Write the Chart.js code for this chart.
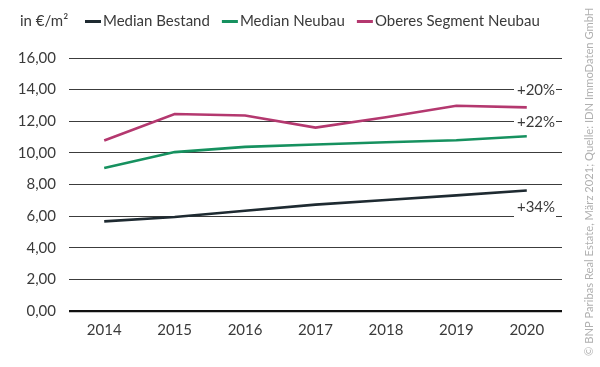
<!DOCTYPE html>
<html>
<head>
<meta charset="utf-8">
<script src="https://cdn.jsdelivr.net/npm/chart.js@4/dist/chart.umd.min.js"></script>
<style>
  html, body { margin: 0; padding: 0; background: #fff; }
  #wrap { width: 600px; height: 367px; position: relative; }
</style>
</head>
<body>
<div id="wrap"><canvas id="chart"></canvas></div>
<script>
// Daten
const years = ['2014', '2015', '2016', '2017', '2018', '2019', '2020']
const medianBestand = [5.67, 5.94, 6.34, 6.73, 7.02, 7.31, 7.62]
const medianNeubau = [9.05, 10.05, 10.38, 10.53, 10.67, 10.80, 11.05]
const oberesSegment = [10.78, 12.46, 12.36, 11.60, 12.25, 12.98, 12.88]
const seriesNames = ['Median Bestand', 'Median Neubau', 'Oberes Segment Neubau']
const seriesColors = ['#1e2a31', '#16915f', '#b4386f']
const changeLabels = ['+20%', '+22%', '+34%']
const changeLevels = [14, 12, 6.6]
const unitLabel = 'in €/m²'
const sourceText = '© BNP Paribas Real Estate, März 2021; Quelle: IDN ImmoDaten GmbH'

const FONT = 'Lato, "Open Sans", sans-serif'
const TEXT = '#3a3a3a'

// Legende oben links
const legendPlugin = {
    id: 'topLegend',
    afterDraw(chart) {
        const ctx = chart.ctx
        ctx.save()
        ctx.font = '15px ' + FONT
        ctx.fillStyle = TEXT
        ctx.textBaseline = 'middle'
        ctx.fillText(unitLabel, 20, 21)
        let x = 85
        seriesNames.forEach((name, i) => {
            ctx.fillStyle = seriesColors[i]
            ctx.fillRect(x, 20, 16, 3)
            ctx.fillStyle = TEXT
            ctx.fillText(name, x + 18, 21)
            x += 18 + ctx.measureText(name).width + 12
        })
        ctx.restore()
    }
}

// Veraenderung 2014-2020 rechts
const changePlugin = {
    id: 'changes',
    beforeDatasetsDraw(chart) {
        const ctx = chart.ctx
        const y = chart.scales.y
        ctx.save()
        changeLevels.forEach((v, i) => {
            const py = y.getPixelForValue(v)
            ctx.fillStyle = '#fff'
            ctx.fillRect(514, py - 11, 42, i === 2 ? 24 : 20)
        })
        ctx.restore()
    },
    afterDatasetsDraw(chart) {
        const ctx = chart.ctx
        const y = chart.scales.y
        ctx.save()
        ctx.font = '15px ' + FONT
        ctx.fillStyle = TEXT
        ctx.textAlign = 'center'
        ctx.textBaseline = 'middle'
        changeLabels.forEach((t, i) => {
            ctx.fillText(t, 536, y.getPixelForValue(changeLevels[i]) + 1)
        })
        // Quelle, senkrecht
        ctx.translate(589, 356)
        ctx.rotate(-Math.PI / 2)
        ctx.font = '11.2px ' + FONT
        ctx.fillStyle = '#b0b0b0'
        ctx.textAlign = 'left'
        ctx.fillText(sourceText, 0, 0)
        ctx.restore()
    }
}

const data = {
    labels: years,
    datasets: [medianBestand, medianNeubau, oberesSegment].map((values, i) => ({
        label: seriesNames[i],
        data: values,
        borderColor: seriesColors[i],
        backgroundColor: seriesColors[i],
        borderWidth: 2.6,
        pointRadius: 0,
        tension: 0
    }))
}

const options = {
    responsive: false,
    animation: false,
    layout: { padding: { top: 58, right: 38, bottom: 18, left: 0 } },
    scales: {
        x: {
            offset: true,
            grid: { display: false, drawTicks: false },
            border: { display: false },
            ticks: { color: TEXT, font: { family: FONT, size: 15 }, padding: 10 }
        },
        y: {
            min: 0,
            max: 16,
            afterFit(scale) { scale.width = 69 },
            grid: {
                drawTicks: false,
                color: ctx => ctx.tick && ctx.tick.value === 0 ? '#111' : '#3c3c3c',
                lineWidth: ctx => ctx.tick && ctx.tick.value === 0 ? 2.2 : 1
            },
            border: { display: false },
            ticks: {
                stepSize: 2,
                padding: 13,
                color: TEXT,
                font: { family: FONT, size: 15 },
                callback: v => v.toFixed(2).replace('.', ',')
            }
        }
    },
    plugins: {
        legend: { display: false },
        tooltip: { enabled: false }
    }
}

const canvas = document.getElementById('chart')
canvas.width = 600
canvas.height = 367
new Chart(canvas, { type: 'line', data, options, plugins: [legendPlugin, changePlugin] })
</script>
</body>
</html>
